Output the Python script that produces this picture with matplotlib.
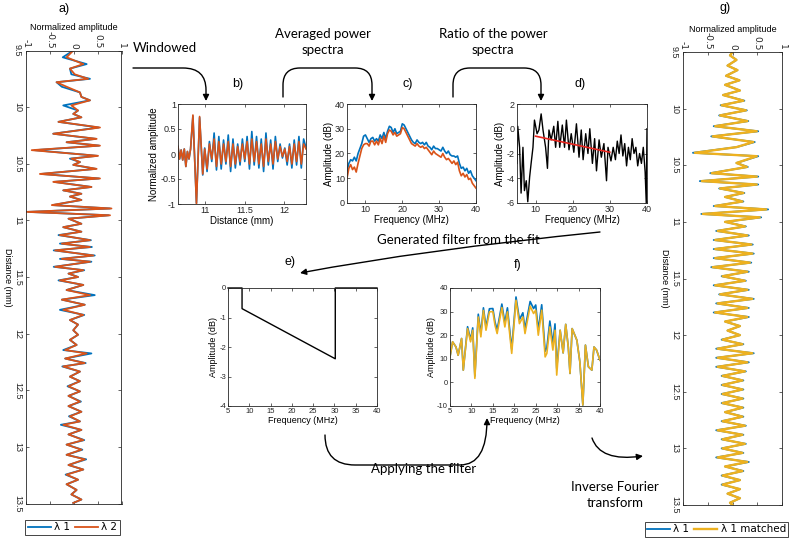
import matplotlib.pyplot as plt
from matplotlib.patches import FancyArrowPatch
from matplotlib.path import Path

# ---- Datos ----

# a) senales completas (distancia en mm, amplitud normalizada)
a_dist = [9.50, 9.56, 9.62, 9.66, 9.71, 9.75, 9.78, 9.82, 9.87, 9.91,
          9.94, 9.985, 10.03, 10.06, 10.09, 10.13, 10.18, 10.235, 10.28, 10.31,
          10.34, 10.38, 10.43, 10.455, 10.485, 10.51, 10.545, 10.59, 10.63, 10.66,
          10.705, 10.735, 10.765, 10.79, 10.82, 10.865, 10.895, 10.925, 10.955, 10.985,
          11.03, 11.06, 11.10, 11.13, 11.175, 11.205, 11.235, 11.265, 11.31, 11.34,
          11.365, 11.41, 11.44, 11.47, 11.50,
          11.53, 11.57, 11.615, 11.66, 11.70, 11.745, 11.79, 11.835, 11.88, 11.92,
          11.97, 12.01, 12.055, 12.10, 12.145, 12.175, 12.22, 12.26, 12.29, 12.335,
          12.38, 12.42, 12.465, 12.51, 12.55, 12.60, 12.64, 12.69, 12.73, 12.775,
          12.805, 12.85, 12.89, 12.94, 12.98, 13.025, 13.07, 13.11, 13.16, 13.20,
          13.245, 13.29, 13.33, 13.38, 13.42, 13.465, 13.495]
a_lam1 = [-0.01, -0.23, 0.27, -0.08, -0.05, 0.34, -0.36, -0.25, 0.13, 0.16,
          0.34, -0.22, 0.09, -0.01, 0.16, -0.32, 0.52, -0.43, 0.46, -0.15,
          0.53, -0.82, 0.49, -0.08, 0.13, -0.01, 0.46, -0.68, 0.53, -0.41,
          0.37, -0.22, 0.16, -0.08, 0.16, -0.44, 0.76, -0.95, 0.73, -0.11,
          0.16, -0.22, 0.16, -0.32, 0.36, -0.29, 0.38, -0.42, 0.44, -0.29,
          0.37, -0.42, 0.22, -0.11, 0.09,
          -0.32, 0.20, -0.15, 0.44, -0.25, 0.23, -0.29, 0.22, -0.08, 0.09,
          -0.01, 0.09, -0.08, 0.06, -0.22, 0.37, -0.18, 0.25, -0.24, 0.13,
          -0.08, 0.13, -0.13, 0.13, -0.11, 0.15, -0.11, 0.16, -0.10, 0.13,
          -0.27, 0.16, -0.11, 0.22, -0.15, 0.18, -0.15, 0.26, -0.11, 0.20,
          -0.17, 0.09, -0.15, 0.06, -0.05, 0.16, -0.01]
a_lam2 = [-0.01, -0.15, 0.20, -0.08, 0.02, 0.30, -0.36, -0.15, 0.13, 0.16,
          0.34, -0.05, 0.09, -0.01, 0.16, -0.32, 0.55, -0.43, 0.48, -0.15,
          0.55, -0.88, 0.51, -0.05, 0.13, -0.01, 0.48, -0.71, 0.55, -0.43,
          0.37, -0.22, 0.16, -0.08, 0.16, -0.46, 0.79, -0.99, 0.76, -0.11,
          0.16, -0.22, 0.16, -0.29, 0.34, -0.25, 0.34, -0.39, 0.41, -0.25,
          0.34, -0.39, 0.20, -0.11, 0.09,
          -0.29, 0.20, -0.15, 0.34, -0.25, 0.23, -0.22, 0.20, -0.08, 0.09,
          -0.01, 0.09, -0.08, 0.06, -0.18, 0.27, -0.18, 0.23, -0.22, 0.13,
          -0.08, 0.13, -0.11, 0.13, -0.11, 0.13, -0.11, 0.16, -0.08, 0.13,
          -0.22, 0.16, -0.11, 0.20, -0.15, 0.16, -0.15, 0.23, -0.11, 0.20,
          -0.15, 0.09, -0.15, 0.06, -0.05, 0.16, -0.01]

# b) senal con ventana
b_dist = [10.65, 10.67, 10.69, 10.71, 10.73, 10.75, 10.77, 10.79, 10.81, 10.84,
          10.885, 10.925, 10.965, 10.99, 11.02, 11.05, 11.08, 11.11, 11.14, 11.17,
          11.20, 11.23, 11.26, 11.29, 11.32, 11.35, 11.38, 11.41, 11.44, 11.47,
          11.50, 11.53, 11.56, 11.59, 11.62, 11.65, 11.68, 11.71, 11.74, 11.77,
          11.80, 11.83, 11.86, 11.89, 11.92, 11.95, 11.98, 12.01, 12.04, 12.07,
          12.10, 12.13, 12.16, 12.19, 12.22, 12.25, 12.28]
b_lam1 = [0.15, -0.10, 0.08, -0.12, 0.10, -0.25, 0.05, -0.10, 0.10, 0.76,
          -0.98, 0.73, -0.42, 0.12, -0.35, 0.25, -0.15, 0.42, -0.32, 0.35,
          -0.30, 0.28, -0.20, 0.38, -0.35, 0.30, -0.28, 0.20, -0.22, 0.30,
          -0.15, 0.35, -0.30, 0.45, -0.22, 0.35, -0.28, 0.30, -0.35, 0.42,
          -0.22, 0.28, -0.30, 0.35, -0.15, 0.20, -0.08, 0.12, -0.22, 0.20,
          -0.28, 0.28, -0.22, 0.35, -0.28, 0.30, 0.12]
b_lam2 = [0.15, -0.10, 0.08, -0.12, 0.10, -0.25, 0.05, -0.10, 0.10, 0.78,
          -1.00, 0.75, -0.40, 0.10, -0.30, 0.20, -0.10, 0.30, -0.25, 0.25,
          -0.20, 0.20, -0.15, 0.25, -0.25, 0.20, -0.20, 0.15, -0.15, 0.20,
          -0.10, 0.25, -0.20, 0.30, -0.15, 0.25, -0.20, 0.20, -0.25, 0.30,
          -0.15, 0.20, -0.20, 0.25, -0.10, 0.15, -0.05, 0.10, -0.15, 0.15,
          -0.20, 0.20, -0.15, 0.25, -0.20, 0.20, 0.10]

# c) espectros de potencia promedio (dB)
c_freq = [5, 5.5, 6, 6.5, 7, 7.5, 8, 8.5, 9, 9.5,
          10, 10.5, 11, 11.5, 12, 12.5, 13, 13.5, 14, 14.5,
          15, 15.5, 16, 16.5, 17, 17.5, 18, 18.5, 19, 19.5,
          20, 20.5, 21, 21.5, 22, 22.5, 23, 23.5, 24, 24.5,
          25, 25.5, 26, 26.5, 27, 27.5, 28, 28.5, 29, 29.5,
          30, 30.5, 31, 31.5, 32, 32.5, 33, 33.5, 34, 34.5,
          35, 35.5, 36, 36.5, 37, 37.5, 38, 38.5, 39, 39.5, 40]
c_lam1 = [13, 16, 17.5, 17, 18.5, 17, 20, 22, 24, 27,
          27.5, 26, 24.5, 26, 26.5, 25, 26, 25, 27.5, 26,
          28.5, 26, 29, 31, 30.5, 28.5, 30, 28, 28.5, 29,
          32, 31.5, 30, 28.5, 27, 25.5, 24.5, 24, 25.5, 24.5,
          24, 24.5, 23.5, 24.5, 23, 22.5, 21.5, 23, 22, 22,
          21.5, 21, 22.5, 21, 20, 21, 19.5, 19, 19, 18.5,
          19, 16, 14, 14.5, 13, 14, 12, 13, 11, 10, 9]
c_lam2 = [10, 14, 15.5, 13.5, 14.5, 12.5, 16, 19, 22, 23.5,
          24, 24, 23, 25, 25, 23.5, 25, 23.5, 26, 24,
          27, 24.5, 28, 29.5, 29, 27.5, 28.5, 27, 27.5, 28,
          30.5, 30, 28.5, 27, 25.5, 24, 23.5, 23, 24, 23,
          22.5, 23, 22, 22.5, 21.5, 20.5, 19.5, 21, 20, 19.5,
          19, 18.5, 20, 18.5, 17.5, 18, 17, 16, 17, 15.5,
          16.5, 13, 11, 12, 10.5, 11.5, 9.5, 10, 8, 7, 6]

# d) cociente de los espectros y ajuste lineal
d_freq = [5.0, 5.2, 5.7, 6.1, 6.6, 7.0, 7.5, 7.9, 8.4, 8.8,
          9.3, 9.7, 10.4, 10.9, 11.5, 12.0, 12.7, 13.2, 13.6, 14.2,
          14.9, 15.4, 16.0, 16.5, 17.2, 17.8, 18.3, 19.0, 19.6, 20.3,
          21.0, 21.7, 22.3, 22.8, 23.5, 24.1, 24.6, 25.3, 25.9, 26.4,
          27.1, 27.7, 28.4, 29.1, 29.5, 30.3, 30.9, 31.5, 32.0, 32.5,
          33.0, 33.5, 34.0, 34.5, 35.0, 35.5, 36.0, 36.5, 37.0, 37.5,
          38.0, 38.5, 39.0, 39.5, 39.8, 40.0]
d_ratio = [-2.8, 0.2, -1.5, -5.2, -1.5, -5.0, -4.2, -5.9, -3.9, -2.8,
           -1.5, 0.7, -0.4, -0.1, 1.2, -0.1, -1.5, -3.2, -0.1, -0.9,
           0.2, -1.5, 0.6, -1.5, 0.3, -1.5, 0.7, -1.7, -0.4, -1.9,
           0.4, -2.3, -0.1, -2.5, -0.4, -2.0, 0.0, -2.8, -0.8, -3.4,
           -0.9, -2.3, -1.2, -4.2, -1.5, -2.6, -1.5, -2.5, -1.0, -2.0,
           -0.5, -2.2, -1.2, -3.0, -1.5, -2.5, -0.8, -2.0, -1.5, -3.0,
           -2.0, -2.8, -1.5, -3.5, -6.0, 0.0]
fit_freq = [10, 30]
fit_db = [-0.6, -1.9]

# e) filtro generado a partir del ajuste
e_freq = [5, 8.3, 8.3, 30.2, 30.2, 40]
e_db = [0, 0, -0.7, -2.4, 0, 0]

# f) espectro antes y despues del filtro
f_freq = [5.0, 5.6, 6.4, 6.9, 7.7, 8.1, 9.1, 9.8, 10.3, 10.8,
          11.6, 12.2, 12.8, 13.4, 14.2, 15.0, 15.5, 16.0, 17.1, 17.8,
          18.4, 19.4, 20.4, 21.2, 22.0, 22.5, 23.7, 24.5, 25.0, 25.6,
          26.4, 27.2, 27.6, 28.3, 29.0, 29.5, 29.9, 30.7, 31.4, 32.0,
          32.6, 33.0, 33.5, 34.6, 35.3, 36.0, 36.6, 37.3, 38.1, 38.6,
          39.2, 40.0]
f_orig = [10.8, 17.2, 15.0, 11.5, 18.6, 5.2, 23.6, 18.1, 23.1, 2.7,
          28.9, 20.6, 31.6, 23.4, 31.2, 31.3, 25.6, 22.2, 33.2, 25.1,
          31.6, 14.1, 36.2, 26.6, 29.5, 22.6, 34.3, 31.3, 32.8, 22.2,
          32.9, 13.2, 14.7, 26.0, 16.3, 24.8, 5.9, 22.1, 12.5, 24.6,
          15.0, 3.8, 22.8, 17.9, 8.7, -9.6, 15.8, 6.6, 5.2, 15.0,
          13.7, 9.4]
f_filt = [10.8, 17.2, 15.0, 11.5, 18.6, 5.2, 22.8, 17.2, 22.1, 1.7,
          27.7, 19.3, 30.5, 22.1, 29.9, 30.0, 24.2, 20.7, 31.7, 23.5,
          29.9, 12.3, 34.8, 24.9, 27.7, 20.7, 32.3, 29.2, 30.6, 20.0,
          30.6, 10.8, 12.3, 23.5, 13.7, 22.1, 3.1, 22.1, 12.5, 24.6,
          15.0, 3.8, 22.8, 17.9, 8.7, -9.6, 15.8, 6.6, 5.2, 15.0,
          13.7, 9.4]

# g) senal original y senal corregida
g_dist = [9.50, 9.53, 9.57, 9.62, 9.66, 9.71, 9.75, 9.79, 9.84, 9.88,
          9.93, 9.97, 10.015, 10.06, 10.11, 10.155, 10.20, 10.245, 10.295, 10.34,
          10.39, 10.42, 10.48, 10.515, 10.57, 10.60, 10.64, 10.67, 10.705, 10.745,
          10.78, 10.82, 10.86, 10.89, 10.93, 10.96, 11.00, 11.04, 11.08, 11.12,
          11.16, 11.20, 11.24, 11.28, 11.32, 11.36, 11.40, 11.44, 11.48, 11.52,
          11.56, 11.60, 11.64, 11.68, 11.72, 11.76, 11.80, 11.84, 11.88, 11.92,
          11.96, 12.00, 12.04, 12.08, 12.12, 12.16, 12.20, 12.24, 12.28, 12.32,
          12.36, 12.40, 12.44, 12.48, 12.52, 12.56, 12.60, 12.64, 12.68, 12.72,
          12.76, 12.80, 12.84, 12.88, 12.92, 12.96, 13.00, 13.04, 13.08, 13.12,
          13.16, 13.20, 13.24, 13.28, 13.32, 13.36, 13.40, 13.44, 13.48, 13.50]
g_matched = [0.00, -0.05, 0.08, -0.10, 0.10, -0.13, 0.14, -0.15, 0.15, -0.19,
             0.22, -0.22, 0.27, -0.25, 0.30, -0.35, 0.49, -0.40, 0.42, 0.08,
             -0.76, 0.49, 0.08, 0.29, -0.42, 0.49, -0.62, 0.49, -0.25, 0.22,
             -0.15, 0.20, -0.35, 0.68, -0.60, 0.55, -0.15, 0.25, -0.30, 0.30,
             -0.35, 0.38, -0.35, 0.40, -0.35, 0.35, -0.40, 0.30, -0.20, 0.25,
             -0.35, 0.30, -0.25, 0.40, -0.30, 0.30, -0.35, 0.30, -0.15, 0.15,
             -0.10, 0.15, -0.20, 0.20, -0.30, 0.40, -0.30, 0.30, -0.30, 0.25,
             -0.20, 0.20, -0.20, 0.20, -0.20, 0.20, -0.20, 0.20, -0.15, 0.20,
             -0.20, 0.25, -0.30, 0.20, -0.20, 0.25, -0.20, 0.20, -0.30, 0.30,
             -0.15, 0.20, -0.20, 0.15, -0.20, 0.15, -0.10, 0.15, -0.05, 0.00]
g_lam1 = [0.00, -0.05, 0.08, -0.10, 0.10, -0.13, 0.14, -0.15, 0.15, -0.19,
          0.24, -0.24, 0.29, -0.27, 0.32, -0.38, 0.52, -0.43, 0.45, 0.08,
          -0.80, 0.52, 0.08, 0.31, -0.45, 0.52, -0.66, 0.52, -0.27, 0.24,
          -0.15, 0.22, -0.38, 0.72, -0.63, 0.58, -0.15, 0.27, -0.33, 0.33,
          -0.38, 0.41, -0.38, 0.43, -0.38, 0.38, -0.43, 0.33, -0.22, 0.27,
          -0.38, 0.33, -0.27, 0.43, -0.33, 0.33, -0.38, 0.33, -0.15, 0.15,
          -0.10, 0.15, -0.22, 0.22, -0.33, 0.43, -0.33, 0.33, -0.33, 0.27,
          -0.22, 0.22, -0.22, 0.22, -0.22, 0.22, -0.22, 0.22, -0.15, 0.22,
          -0.22, 0.27, -0.33, 0.22, -0.22, 0.27, -0.22, 0.22, -0.33, 0.33,
          -0.15, 0.22, -0.22, 0.15, -0.22, 0.15, -0.10, 0.15, -0.05, 0.00]

# ---- Figura ----

W, H = 793, 538
AZUL = '#0072BD'
NARANJA = '#D95319'
AMARILLO = '#EDB120'
FUENTE_EJES = ['Liberation Sans', 'DejaVu Sans']
FUENTE_ESTRECHA = ['Liberation Sans Narrow', 'Liberation Sans', 'DejaVu Sans']
FUENTE_TEXTO = ['Lato', 'DejaVu Sans']

fig = plt.figure(figsize=(W / 100, H / 100), dpi=100)


def ejes_px(x0, y0, x1, y1):
    # posicion de los ejes en pixeles de la imagen
    return fig.add_axes([x0 / W, 1 - y1 / H, (x1 - x0) / W, (y1 - y0) / H])


def estilo_matlab(ax, fs, familia):
    ax.tick_params(direction='in', top=True, right=True, length=2.5, width=0.5,
                   labelsize=fs, pad=1.5, colors='#262626')
    for s in ax.spines.values():
        s.set_linewidth(0.6)
        s.set_color('#262626')
    for lbl in ax.get_xticklabels() + ax.get_yticklabels():
        lbl.set_family(familia)


def panel_vertical(ax, dist, series, colores, anchos):
    for vals, col, lw in zip(series, colores, anchos):
        ax.plot(vals, dist, color=col, lw=lw)
    ax.set_xlim(-1, 1)
    ax.set_ylim(13.5, 9.5)
    ax.set_xticks([-1, -0.5, 0, 0.5, 1])
    ax.set_xticklabels(['-1', '-0.5', '0', '0.5', '1'])
    ax.set_yticks([9.5, 10, 10.5, 11, 11.5, 12, 12.5, 13, 13.5])
    ax.set_yticklabels(['9.5', '10', '10.5', '11', '11.5', '12', '12.5', '13', '13.5'])
    estilo_matlab(ax, 6.5, FUENTE_ESTRECHA)
    ax.tick_params(labeltop=True, labelbottom=False)
    ax.tick_params(axis='y', pad=3)
    ax.xaxis.set_label_position('top')
    ax.set_xlabel('Normalized amplitude', fontsize=6.5, family=FUENTE_ESTRECHA, labelpad=0.5)
    for lbl in ax.get_xticklabels():
        lbl.set_rotation(-90)
    for lbl in ax.get_yticklabels():
        lbl.set_rotation(-90)
        lbl.set_va('center')


# a)
ax_a = ejes_px(26, 50.5, 121.5, 503.5)
panel_vertical(ax_a, a_dist, [a_lam1, a_lam2], [AZUL, NARANJA], [1.3, 1.3])
ax_a.set_ylabel('Distance (mm)', fontsize=6.5, family=FUENTE_ESTRECHA, rotation=-90,
                labelpad=7)

# g)
ax_g = ejes_px(683, 52, 782, 505)
panel_vertical(ax_g, g_dist, [g_lam1, g_matched], [AZUL, AMARILLO], [1.3, 1.7])
ax_g.set_ylabel('Distance (mm)', fontsize=6.5, family=FUENTE_ESTRECHA, rotation=-90,
                labelpad=7)

# b)
ax_b = ejes_px(178, 104, 306, 204)
ax_b.plot(b_dist, b_lam1, color=AZUL, lw=1.2)
ax_b.plot(b_dist, b_lam2, color=NARANJA, lw=1.2)
ax_b.set_xlim(10.65, 12.28)
ax_b.set_ylim(-1, 1)
ax_b.set_xticks([11, 11.5, 12])
ax_b.set_xticklabels(['11', '11.5', '12'])
ax_b.set_yticks([-1, -0.5, 0, 0.5, 1])
ax_b.set_yticklabels(['-1', '-0.5', '0', '0.5', '1'])
estilo_matlab(ax_b, 6.5, FUENTE_EJES)
ax_b.set_xlabel('Distance (mm)', fontsize=7, family=FUENTE_EJES, labelpad=1)
ax_b.set_ylabel('Normalized amplitude', fontsize=7, family=FUENTE_EJES, labelpad=1)

# c)
ax_c = ejes_px(347, 104, 476, 203)
ax_c.plot(c_freq, c_lam1, color=AZUL, lw=1.2)
ax_c.plot(c_freq, c_lam2, color=NARANJA, lw=1.2)
ax_c.set_xlim(5, 40)
ax_c.set_ylim(0, 40)
ax_c.set_xticks([10, 20, 30, 40])
ax_c.set_yticks([0, 10, 20, 30, 40])
estilo_matlab(ax_c, 6.5, FUENTE_EJES)
ax_c.set_xlabel('Frequency (MHz)', fontsize=7, family=FUENTE_EJES, labelpad=1)
ax_c.set_ylabel('Amplitude (dB)', fontsize=7, family=FUENTE_EJES, labelpad=1)

# d)
ax_d = ejes_px(517, 104, 647, 203)
ax_d.plot(d_freq, d_ratio, color='black', lw=1.0)
ax_d.plot(fit_freq, fit_db, color='#E8261F', lw=1.2)
ax_d.set_xlim(5, 40)
ax_d.set_ylim(-6, 2)
ax_d.set_xticks([10, 20, 30, 40])
ax_d.set_yticks([-6, -4, -2, 0, 2])
ax_d.set_yticklabels(['-6', '-4', '-2', '0', '2'])
estilo_matlab(ax_d, 6.5, FUENTE_EJES)
ax_d.set_xlabel('Frequency (MHz)', fontsize=7, family=FUENTE_EJES, labelpad=1)
ax_d.set_ylabel('Amplitude (dB)', fontsize=7, family=FUENTE_EJES, labelpad=1)

# e)
ax_e = ejes_px(228, 288, 377, 406)
ax_e.plot(e_freq, e_db, color='black', lw=1.0, clip_on=False)
ax_e.set_xlim(5, 40)
ax_e.set_ylim(-4, 0)
ax_e.set_xticks([5, 10, 15, 20, 25, 30, 35, 40])
ax_e.set_yticks([-4, -3, -2, -1, 0])
ax_e.set_yticklabels(['-4', '-3', '-2', '-1', '0'])
estilo_matlab(ax_e, 5.5, FUENTE_EJES)
ax_e.set_xlabel('Frequency (MHz)', fontsize=6.5, family=FUENTE_EJES, labelpad=1)
ax_e.set_ylabel('Amplitude (dB)', fontsize=6.5, family=FUENTE_EJES, labelpad=1)

# f)
ax_f = ejes_px(450, 288, 600, 406)
ax_f.plot(f_freq, f_orig, color=AZUL, lw=1.2)
ax_f.plot(f_freq, f_filt, color=AMARILLO, lw=1.2)
ax_f.set_xlim(5, 40)
ax_f.set_ylim(-10, 40)
ax_f.set_xticks([5, 10, 15, 20, 25, 30, 35, 40])
ax_f.set_yticks([-10, 0, 10, 20, 30, 40])
ax_f.set_yticklabels(['-10', '0', '10', '20', '30', '40'])
estilo_matlab(ax_f, 5.5, FUENTE_EJES)
ax_f.set_xlabel('Frequency (MHz)', fontsize=6.5, family=FUENTE_EJES, labelpad=1)
ax_f.set_ylabel('Amplitude (dB)', fontsize=6.5, family=FUENTE_EJES, labelpad=1)

# leyendas
la1, la2 = ax_a.lines[0], ax_a.lines[1]
leg_a = fig.legend([la1, la2], ['λ 1', 'λ 2'], loc='center', ncol=2,
                   bbox_to_anchor=(72.5 / W, 1 - 527.5 / H), fontsize=7.5,
                   frameon=True, fancybox=False, edgecolor='#262626', framealpha=1,
                   handlelength=2.2, handletextpad=0.3, columnspacing=0.5,
                   borderpad=0.25, borderaxespad=0)
leg_a.get_frame().set_linewidth(0.6)
lg1, lg2 = ax_g.lines[0], ax_g.lines[1]
leg_g = fig.legend([lg1, lg2], ['λ 1', 'λ 1 matched'], loc='center', ncol=2,
                   bbox_to_anchor=(716.5 / W, 1 - 529.5 / H), fontsize=7.5,
                   frameon=True, fancybox=False, edgecolor='#262626', framealpha=1,
                   handlelength=2.2, handletextpad=0.3, columnspacing=0.5,
                   borderpad=0.25, borderaxespad=0)
leg_g.get_frame().set_linewidth(0.6)

# ---- Textos y flechas (capa superior en pixeles) ----
ov = fig.add_axes([0, 0, 1, 1], zorder=10)
ov.set_xlim(0, W)
ov.set_ylim(H, 0)
ov.axis('off')

etiquetas = [('a)', 64, 9), ('b)', 238, 84), ('c)', 408, 84), ('d)', 580, 84),
             ('e)', 290, 262), ('f)', 518, 265), ('g)', 725, 8)]
for txt, x, y in etiquetas:
    ov.text(x, y, txt, fontsize=9, family=FUENTE_ESTRECHA, ha='center', va='center')

ov.text(133, 48, 'Windowed', fontsize=9.5, family=FUENTE_TEXTO, ha='left', va='center')
ov.text(323, 42, 'Averaged power\nspectra', fontsize=9.5, family=FUENTE_TEXTO,
        ha='center', va='center', linespacing=1.45)
ov.text(493, 42, 'Ratio of the power\nspectra', fontsize=9.5, family=FUENTE_TEXTO,
        ha='center', va='center', linespacing=1.45)
ov.text(458, 240, 'Generated filter from the fit', fontsize=9.5, family=FUENTE_TEXTO,
        ha='center', va='center')
ov.text(424, 469, 'Applying the filter', fontsize=9.5, family=FUENTE_TEXTO,
        ha='center', va='center')
ov.text(615, 495, 'Inverse Fourier\ntransform', fontsize=9.5, family=FUENTE_TEXTO,
        ha='center', va='center', linespacing=1.45)

M, L, C = Path.MOVETO, Path.LINETO, Path.CURVE3
flechas = [
    ([(133, 68), (183, 68), (206, 68), (206, 90), (206, 101)], [M, L, C, C, L]),
    ([(283, 97), (283, 85), (283, 68), (300, 68), (355, 68), (372, 68), (372, 85), (372, 101)],
     [M, L, C, C, L, C, C, L]),
    ([(453, 97), (453, 85), (453, 68), (470, 68), (524, 68), (541, 68), (541, 85), (541, 101)],
     [M, L, C, C, L, C, C, L]),
    ([(600, 232), (422, 250), (300, 273)], [M, C, C]),
    ([(325, 435), (325, 465), (355, 465), (460, 465), (487, 465), (487, 418)],
     [M, C, C, L, C, C]),
    ([(592, 438), (600, 462), (643, 456)], [M, C, C]),
]
for verts, codes in flechas:
    ov.add_patch(FancyArrowPatch(path=Path(verts, codes), arrowstyle='-|>',
                                 mutation_scale=9, lw=1.0, color='black'))

fig.savefig('out.png', dpi=100)
